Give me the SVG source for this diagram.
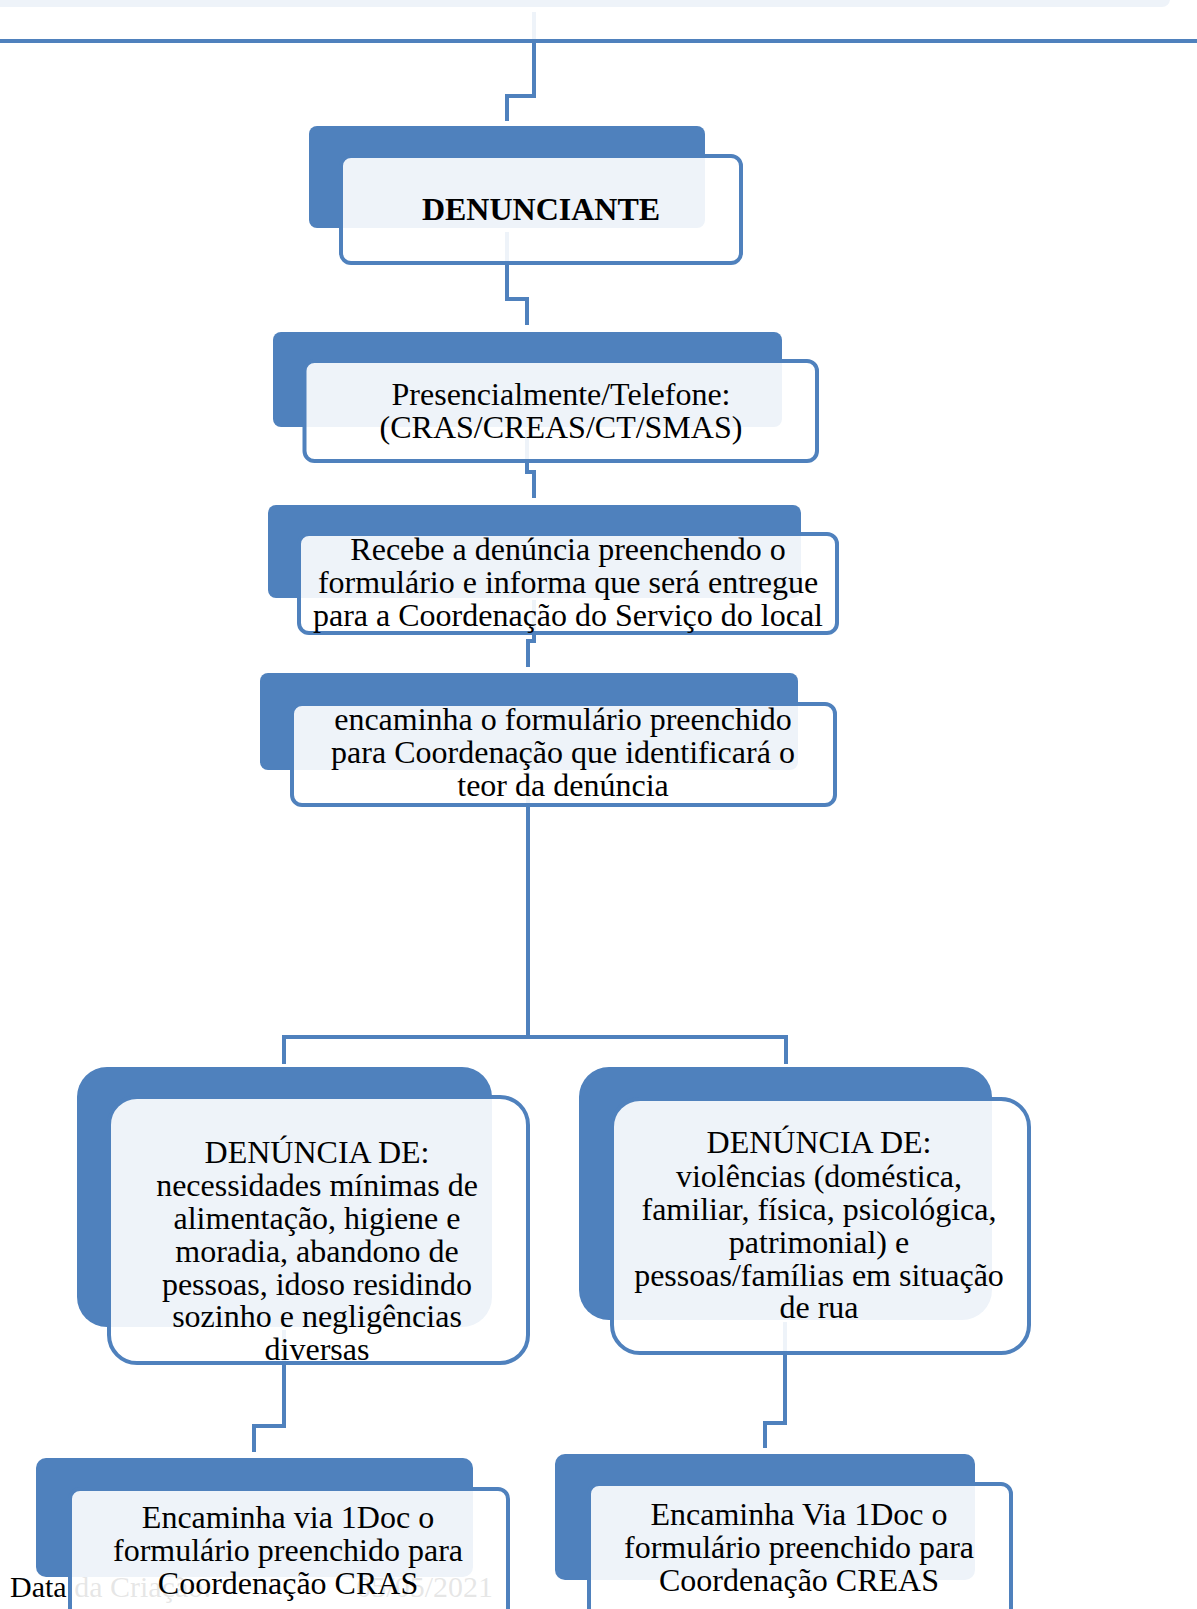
<svg xmlns="http://www.w3.org/2000/svg" width="1197" height="1609" viewBox="0 0 1197 1609">
<style>
.back{fill:#4F81BD}
.front{fill:#FFFFFF;fill-opacity:0.9;stroke:#4F81BD;stroke-width:4}
.conn{fill:none;stroke:#4F81BD;stroke-width:4}
.t{font-family:"Liberation Serif","Times New Roman",serif;font-size:32px;fill:#000;text-anchor:middle}
.b{font-weight:bold}
.foot{font-family:"Liberation Serif","Times New Roman",serif;font-size:30px;fill:#000}
</style>
<rect width="1197" height="1609" fill="#FFFFFF"/>
<g id="connectors">
<path class="conn" d="M534,12 V96 H507 V121"/>
<path class="conn" d="M507,232 V299 H527 V325"/>
<path class="conn" d="M527,430 V472 H534 V498"/>
<path class="conn" d="M534,600 V641 H528 V667"/>
<path class="conn" d="M528,772 V1037"/>
<path class="conn" d="M284,1064 V1037 H786 V1064"/>
<path class="conn" d="M284,1330 V1426 H254 V1452"/>
<path class="conn" d="M785,1322 V1423 H765 V1448"/>
</g>
<text class="foot" x="10" y="1597">Data da Criação:<tspan x="493" text-anchor="end">05/05/2021</tspan></text>
<g id="node-top">
<rect class="back" x="-20" y="-60" width="1190" height="67" rx="8"/>
<rect class="front" x="-30" y="-60" width="1260" height="101" rx="10"/>
</g>
<g id="node-denunciante">
<rect class="back" x="309" y="126" width="396" height="102" rx="8"/>
<rect class="front" x="341" y="156" width="400" height="107" rx="10"/>
<text class="t b" x="541" y="220">DENUNCIANTE</text>
</g>
<g id="node-presencial">
<rect class="back" x="273" y="332" width="509" height="95" rx="8"/>
<rect class="front" x="304.5" y="361" width="512.5" height="100" rx="10"/>
<text class="t" x="561" y="405">Presencialmente/Telefone:</text>
<text class="t" x="561" y="438">(CRAS/CREAS/CT/SMAS)</text>
</g>
<g id="node-recebe">
<rect class="back" x="268" y="505" width="533" height="93" rx="8"/>
<rect class="front" x="299" y="534" width="538" height="99" rx="10"/>
<text class="t" x="568" y="560">Recebe a denúncia preenchendo o</text>
<text class="t" x="568" y="593">formulário e informa que será entregue</text>
<text class="t" x="568" y="626">para a Coordenação do Serviço do local</text>
</g>
<g id="node-encaminha">
<rect class="back" x="260" y="673" width="538" height="97" rx="8"/>
<rect class="front" x="292" y="704" width="543" height="101" rx="10"/>
<text class="t" x="563" y="730">encaminha o formulário preenchido</text>
<text class="t" x="563" y="763">para Coordenação que identificará o</text>
<text class="t" x="563" y="796">teor da denúncia</text>
</g>
<g id="node-denuncia-cras">
<rect class="back" x="77" y="1067" width="415" height="260" rx="30"/>
<rect class="front" x="109" y="1097" width="419" height="266" rx="28"/>
<text class="t" x="317" y="1163">DENÚNCIA DE:</text>
<text class="t" x="317" y="1196">necessidades mínimas de</text>
<text class="t" x="317" y="1229">alimentação, higiene e</text>
<text class="t" x="317" y="1262">moradia, abandono de</text>
<text class="t" x="317" y="1295">pessoas, idoso residindo</text>
<text class="t" x="317" y="1327">sozinho e negligências</text>
<text class="t" x="317" y="1360">diversas</text>
</g>
<g id="node-denuncia-creas">
<rect class="back" x="579" y="1067" width="413" height="253" rx="30"/>
<rect class="front" x="612" y="1099" width="417" height="254" rx="28"/>
<text class="t" x="819" y="1153">DENÚNCIA DE:</text>
<text class="t" x="819" y="1187">violências (doméstica,</text>
<text class="t" x="819" y="1220">familiar, física, psicológica,</text>
<text class="t" x="819" y="1253">patrimonial) e</text>
<text class="t" x="819" y="1286">pessoas/famílias em situação</text>
<text class="t" x="819" y="1318">de rua</text>
</g>
<g id="node-coord-cras">
<rect class="back" x="36" y="1458" width="437" height="119" rx="10"/>
<rect class="front" x="70" y="1489" width="438" height="160" rx="10"/>
<text class="t" x="288" y="1528">Encaminha via 1Doc o</text>
<text class="t" x="288" y="1561">formulário preenchido para</text>
<text class="t" x="288" y="1594">Coordenação CRAS</text>
</g>
<g id="node-coord-creas">
<rect class="back" x="555" y="1454" width="420" height="126" rx="10"/>
<rect class="front" x="589" y="1484" width="422" height="160" rx="10"/>
<text class="t" x="799" y="1525">Encaminha Via 1Doc o</text>
<text class="t" x="799" y="1558">formulário preenchido para</text>
<text class="t" x="799" y="1591">Coordenação CREAS</text>
</g>
</svg>
